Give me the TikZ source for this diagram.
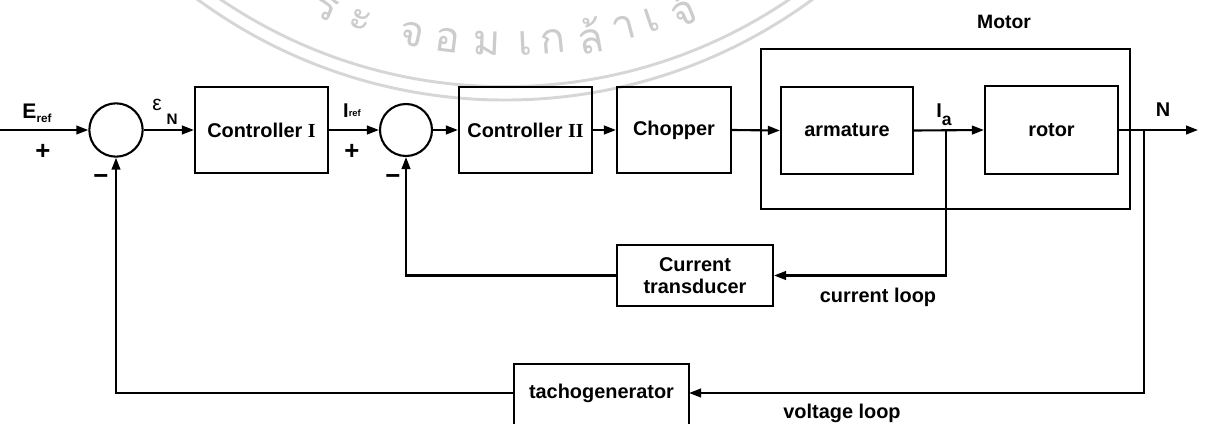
\documentclass[tikz,border=0pt]{standalone}
\usepackage{fontspec}
\setmainfont{Liberation Sans}
\newfontfamily\rmnum{Liberation Serif}
\newfontfamily\thaifont[Script=Thai]{Loma}
\usetikzlibrary{arrows.meta,calc}
\begin{document}
\begin{tikzpicture}[x=0.03cm,y=-0.03cm,
  line width=1.8pt,
  arr/.style={-{Triangle[length=0.36cm,width=0.26cm]}},
  blk/.style={draw,rectangle,inner sep=0pt,font=\fontsize{17}{18.5}\selectfont\bfseries,align=center},
  sumj/.style={draw,circle,inner sep=0pt,minimum size=1.6cm},
  lbl/.style={inner sep=0pt,font=\fontsize{17}{19}\selectfont\bfseries},
  sgn/.style={inner sep=0pt,font=\fontsize{22}{24}\selectfont\bfseries},
  wm/.style={draw=black!16,line width=2.5pt},
  wmtext/.style={inner sep=0pt,text=black!20,font=\fontsize{36}{40}\selectfont\thaifont}
]
\useasboundingbox (0,0) rectangle (1205,424);
\clip (0,0) rectangle (1205,424);
% faint watermark
\coordinate (wmc) at (505,-420);
\draw[wm] (wmc) circle[radius=15.6cm];
\draw[wm] (wmc) circle[radius=15.2cm];
\foreach \ch/\xx in {ร/326,ะ/360,จ/412,อ/448,ม/487,เ/525,ก/553,ล้/590,า/624,เ/652,จ้/682}{
  \pgfmathsetmacro\al{asin((\xx-505)/464)}
  \node[wmtext,rotate=\al] at ({505+464*sin(\al)},{-420+464*cos(\al)}) {\ch};
}
% blocks
\node[sumj] (s1) at (116,130) {};
\node[blk,minimum width=3.99cm,minimum height=2.58cm] (c1) at (261.5,130) {Controller {\rmnum I}};
\node[sumj,minimum size=1.56cm] (s2) at (406,130) {};
\node[blk,minimum width=3.99cm,minimum height=2.58cm] (c2) at (525.5,130) {Controller {\rmnum II}};
\node[blk,minimum width=3.42cm,minimum height=2.58cm] (ch) at (674,130) {Chopper};
\node[draw,rectangle,inner sep=0pt,minimum width=11.07cm,minimum height=4.8cm] (motor) at (945.5,129) {};
\node[blk,minimum width=3.96cm,minimum height=2.61cm] (arm) at (847,130.5) {armature};
\node[blk,minimum width=3.99cm,minimum height=2.64cm] (rot) at (1051.5,130) {rotor};
\node[blk,minimum width=4.68cm,minimum height=1.83cm] (ct) at (695,275.5) {Current\\transducer};
\node[blk,draw=none,minimum width=5.19cm,minimum height=1.68cm] (tg) at (601.5,393) {tachogenerator};
\draw ([yshift=-3cm]tg.north west) -- (tg.north west) -- (tg.north east) -- ([yshift=-3cm]tg.north east);
% coordinates
\coordinate (in) at (0,130);
\coordinate (out) at (1198,130);
\coordinate (tapa) at (946,130);
\coordinate (tapn) at (1144,130);
% forward path
\draw[arr] (in) -- (s1.west);
\draw[arr] (s1.east) -- (c1.west);
\draw[arr] (c1.east) -- (s2.west);
\draw[arr] (s2.east) -- (c2.west);
\draw[arr] (c2.east) -- (ch.west);
\draw[arr] (ch.east) -- (arm.west);
\draw[arr] (arm.east) -- (rot.west);
\draw[arr] (rot.east) -- (out);
% current loop
\draw[arr] (tapa) |- (ct.east);
\draw[arr] (ct.west) -| (s2.south);
% voltage loop
\draw[arr] (tapn) |- (tg.east);
\draw[arr] (tg.west) -| (s1.south);
% labels
\node[lbl,font=\fontsize{18}{20}\selectfont\bfseries] (eref) at (37,113) {E\raisebox{-0.35ex}{\fontsize{10}{11}\selectfont ref}};
\node[sgn] (p1) at (43,152) {+};
\node[sgn] (m1) at (101,180) {−};
\node[lbl,font=\fontsize{18}{19}\selectfont] (eps) at (157,105) {ε};
\node[lbl,font=\fontsize{13}{15}\selectfont\bfseries] (epsN) at (172,119) {N};
\node[lbl] (iref) at (352,111) {I\raisebox{0.1ex}{\fontsize{8}{9}\selectfont ref}};
\node[sgn] (p2) at (352,152) {+};
\node[sgn] (m2) at (393,180) {−};
\node[lbl] (ia) at (944,115) {I\raisebox{-0.75ex}{\fontsize{15}{16}\selectfont a}};
\node[lbl] (nlbl) at (1163,110) {N};
\node[lbl,font=\fontsize{16.5}{18}\selectfont\bfseries] (motlbl) at (1004,22) {Motor};
\node[lbl] (cl) at (878,297) {current loop};
\node[lbl] (vl) at (842,413) {voltage loop};
\end{tikzpicture}
\end{document}
